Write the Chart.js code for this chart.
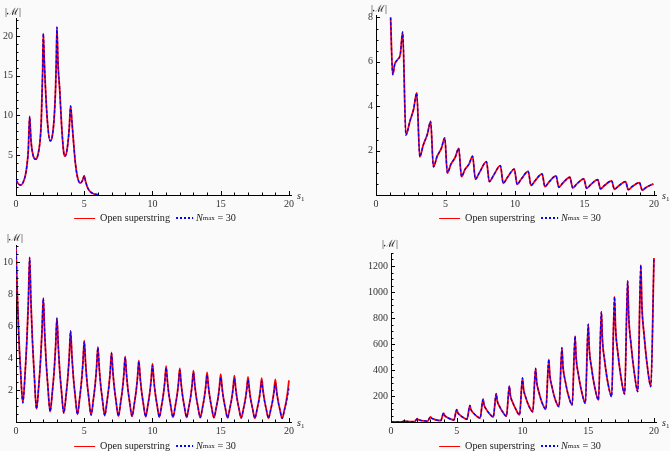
<!DOCTYPE html>
<html><head><meta charset="utf-8">
<script src="https://cdn.jsdelivr.net/npm/chart.js@4.4.1/dist/chart.umd.min.js"></script>
<style>
html,body{margin:0;padding:0;background:#fafafa;}
body{width:670px;height:451px;position:relative;overflow:hidden;font-family:"Liberation Serif","DejaVu Serif",serif;color:#222;}
canvas{position:absolute;}
.lab{position:absolute;font-size:10px;line-height:1;white-space:nowrap;color:#222;}
.lab i{font-style:italic;}
.leg{position:absolute;display:flex;align-items:center;font-size:10.2px;line-height:1;white-space:nowrap;transform:translateX(-50%);color:#222;}
.rl{display:inline-block;width:21px;height:1.2px;background:#f00;margin-right:5px;}
.bl{display:inline-block;width:17px;height:1.5px;background:repeating-linear-gradient(to right,#00f 0 2px,transparent 2px 4px);margin-left:6px;margin-right:3px;}
sub{font-size:7px;vertical-align:-2px;line-height:0;}
</style></head>
<body>
<canvas id="c1" width="335" height="225" style="left:0;top:0"></canvas>
<canvas id="c2" width="335" height="225" style="left:335px;top:0"></canvas>
<canvas id="c3" width="335" height="226" style="left:0;top:225px"></canvas>
<canvas id="c4" width="335" height="226" style="left:335px;top:225px"></canvas>

<div class="lab" style="left:5px;top:7px">|ℳ|</div>
<div class="lab" style="left:371px;top:4px">|ℳ|</div>
<div class="lab" style="left:7px;top:233px">|ℳ|</div>
<div class="lab" style="left:382px;top:239px">|ℳ|</div>
<div class="lab" style="left:297px;top:191px"><i>s</i><sub>1</sub></div>
<div class="lab" style="left:662px;top:191px"><i>s</i><sub>1</sub></div>
<div class="lab" style="left:297px;top:418px"><i>s</i><sub>1</sub></div>
<div class="lab" style="left:662px;top:418px"><i>s</i><sub>1</sub></div>

<div class="leg" style="left:155px;top:213px"><span class="rl"></span>Open superstring<span class="bl"></span><i>N</i><sub>max</sub>&nbsp;= 30</div>
<div class="leg" style="left:520px;top:213px"><span class="rl"></span>Open superstring<span class="bl"></span><i>N</i><sub>max</sub>&nbsp;= 30</div>
<div class="leg" style="left:155px;top:441px"><span class="rl"></span>Open superstring<span class="bl"></span><i>N</i><sub>max</sub>&nbsp;= 30</div>
<div class="leg" style="left:520px;top:441px"><span class="rl"></span>Open superstring<span class="bl"></span><i>N</i><sub>max</sub>&nbsp;= 30</div>

<script>
// ---------- DATA ----------
const p1X = [0,0.15,0.35,0.55,0.7,0.8,0.9,1.0,1.1,1.25,1.45,1.6,1.75,1.85,1.95,2.0,2.07,2.15,2.3,2.5,2.65,2.8,2.9,2.95,3.0,3.08,3.2,3.35,3.5,3.6,3.75,3.9,4.0,4.1,4.2,4.35,4.5,4.7,4.85,5.0,5.1,5.25,5.45,5.7,6.0];
const p1Y = [1.9,1.45,1.25,1.7,2.6,3.7,5.6,9.9,6.8,5.0,4.5,5.0,6.6,9.2,15.5,20.3,17,13.8,9.3,6.8,7.3,9.8,13.5,16.8,21.1,16.5,13.3,8.5,5.3,4.9,5.8,8.4,11.2,9.2,7.0,4.0,2.3,1.5,1.75,2.4,1.7,0.9,0.4,0.15,0.05];

const p2X = [1.05,1.2,1.35,1.55,1.75,1.92, 2.15,2.45,2.7,2.93, 3.15,3.4,3.7,3.93, 4.13,4.4,4.7,4.95, 5.13,5.4,5.7,5.95, 6.15,6.4,6.7,6.95, 7.15,7.45,7.95, 8.15,8.45,8.95, 9.15,9.45,9.95, 10.15,10.45,10.95, 11.15,11.45,11.95, 12.15,12.45,12.95, 13.15,13.45,13.95, 14.15,14.45,14.95, 15.15,15.45,15.95, 16.15,16.45,16.95, 17.15,17.45,17.95, 18.15,18.45,18.95, 19.15,19.45,19.95];
const p2Y = [8.0,5.42,5.9,6.1,6.35,7.35, 2.7,3.35,3.85,4.6, 1.72,2.25,2.75,3.32, 1.27,1.75,2.1,2.57, 1.0,1.4,1.7,2.1, 0.83,1.15,1.4,1.75, 0.71,1.02,1.5, 0.6,0.88,1.32, 0.53,0.79,1.17, 0.48,0.72,1.06, 0.43,0.65,0.95, 0.38,0.59,0.86, 0.35,0.55,0.8, 0.32,0.5,0.73, 0.3,0.47,0.69, 0.28,0.44,0.64, 0.26,0.41,0.6, 0.24,0.39,0.56, 0.22,0.35,0.5];

const p3X = [0,0.1,0.2,0.33,0.5,0.67,0.8,0.9, 1,1.1,1.2,1.33,1.5,1.67,1.8,1.9, 2,2.1,2.2,2.33,2.5,2.67,2.8,2.9, 3,3.1,3.2,3.33,3.5,3.67,3.8,3.9, 4,4.1,4.2,4.33,4.5,4.67,4.8,4.9, 5,5.1,5.2,5.33,5.5,5.67,5.8,5.9, 6,6.1,6.2,6.33,6.5,6.67,6.8,6.9, 7,7.1,7.2,7.33,7.5,7.67,7.8,7.9, 8,8.1,8.2,8.33,8.5,8.67,8.8,8.9, 9,9.1,9.2,9.33,9.5,9.67,9.8,9.9, 10,10.1,10.2,10.33,10.5,10.67,10.8,10.9, 11,11.1,11.2,11.33,11.5,11.67,11.8,11.9, 12,12.1,12.2,12.33,12.5,12.67,12.8,12.9, 13,13.1,13.2,13.33,13.5,13.67,13.8,13.9, 14,14.1,14.2,14.33,14.5,14.67,14.8,14.9, 15,15.1,15.2,15.33,15.5,15.67,15.8,15.9, 16,16.1,16.2,16.33,16.5,16.67,16.8,16.9, 17,17.1,17.2,17.33,17.5,17.67,17.8,17.9, 18,18.1,18.2,18.33,18.5,18.67,18.8,18.9, 19,19.1,19.2,19.33,19.5,19.67,19.8,19.9, 20];
const p3Red = [11.0,7.9,5.5,3.3,1.2,3.1,5.2,7.4, 10.3,7.4,5.2,3.1,0.82,2.3,3.9,5.6, 7.75,5.6,3.9,2.3,0.65,1.95,3.25,4.7, 6.5,4.7,3.25,1.95,0.55,1.7,2.85,4.1, 5.7,4.1,2.85,1.7,0.48,1.53,2.55,3.67, 5.1,3.67,2.55,1.53,0.43,1.41,2.35,3.38, 4.7,3.38,2.35,1.41,0.4,1.3,2.18,3.13, 4.35,3.13,2.18,1.3,0.37,1.23,2.05,2.95, 4.1,2.95,2.05,1.23,0.35,1.15,1.93,2.77, 3.85,2.77,1.93,1.15,0.33,1.1,1.83,2.63, 3.65,2.63,1.83,1.1,0.31,1.05,1.75,2.52, 3.5,2.52,1.75,1.05,0.3,1.0,1.68,2.41, 3.35,2.41,1.68,1.0,0.29,0.97,1.61,2.32, 3.22,2.32,1.61,0.97,0.28,0.93,1.55,2.23, 3.1,2.23,1.55,0.93,0.27,0.9,1.5,2.16, 3.0,2.16,1.5,0.9,0.26,0.87,1.45,2.09, 2.9,2.09,1.45,0.87,0.25,0.85,1.41,2.03, 2.82,2.03,1.41,0.85,0.24,0.83,1.38,1.98, 2.75,1.98,1.38,0.83,0.24,0.8,1.34,1.92, 2.67,1.92,1.34,0.8,0.23,0.78,1.3,1.87, 2.6];
const p3Blue = [11.0,7.9,5.5,3.3,1.2,3.1,5.2,7.4, 10.3,7.4,5.2,3.1,0.82,2.3,3.9,5.6, 7.75,5.6,3.9,2.3,0.65,1.95,3.25,4.7, 6.5,4.7,3.25,1.95,0.55,1.7,2.85,4.1, 5.7,4.1,2.85,1.7,0.48,1.53,2.55,3.67, 5.05,3.67,2.55,1.53,0.43,1.41,2.35,3.38, 4.65,3.38,2.35,1.41,0.4,1.3,2.18,3.13, 4.3,3.13,2.18,1.3,0.37,1.23,2.05,2.93, 4.05,2.93,2.05,1.23,0.35,1.15,1.92,2.74, 3.8,2.74,1.92,1.15,0.33,1.1,1.82,2.6, 3.55,2.6,1.82,1.1,0.31,1.05,1.74,2.48, 3.4,2.48,1.74,1.05,0.3,1.0,1.66,2.37, 3.25,2.37,1.66,1.0,0.29,0.96,1.59,2.27, 3.1,2.27,1.59,0.96,0.28,0.92,1.53,2.18, 2.95,2.18,1.53,0.92,0.27,0.89,1.47,2.1, 2.8,2.1,1.47,0.89,0.26,0.86,1.43,2.03, 2.75,2.03,1.43,0.86,0.25,0.84,1.39,1.96, 2.65,1.96,1.39,0.84,0.24,0.82,1.35,1.9, 2.55,1.9,1.35,0.82,0.24,0.79,1.3,1.82, 2.45,1.82,1.3,0.79,0.23,0.75,1.2,1.65, 2.1];

const p4X = [0,0.5,0.8, 1,1.08,1.25,1.5,1.78, 2,2.08,2.25,2.5,2.78, 3,3.08,3.25,3.5,3.78, 4,4.08,4.25,4.5,4.78, 5,5.08,5.25,5.5,5.78, 6,6.08,6.25,6.5,6.78, 7,7.08,7.25,7.5,7.78, 8,8.08,8.25,8.5,8.78, 9,9.08,9.25,9.5,9.78, 10,10.08,10.25,10.5,10.78, 11,11.08,11.25,11.5,11.78, 12,12.08,12.25,12.5,12.78, 13,13.08,13.25,13.5,13.78, 14,14.08,14.25,14.5,14.78, 15,15.08,15.25,15.5,15.78, 16,16.08,16.25,16.5,16.78, 17,17.08,17.25,17.5,17.77, 18,18.08,18.25,18.5,18.77, 19,19.08,19.25,19.5,19.76, 20];
const p4Y = [0,0.3,0.5, 8,6,4,3,2, 25,18,13,9,6, 40,30,22,14,10, 68,50,37,24,15, 95,71,53,34,21, 128,96,71,46,30, 175,131,97,62,38, 218,163,121,77,45, 275,205,152,97,55, 340,254,189,120,79, 412,308,229,145,98, 482,360,268,170,118, 571,426,317,201,131, 661,493,367,233,144, 753,562,418,265,169, 848,633,471,298,195, 964,720,535,339,215, 1087,811,604,382,233, 1207,901,670,425,272, 1262];

const seriesNames = ['Open superstring', 'N_max = 30'];

// ---------- RENDER ----------
const FONT = '"Liberation Serif","DejaVu Serif",serif';
function pts(xs, ys){ return xs.map((x,i)=>({x:x, y:ys[i]})); }

const tickMarks = {
  id:'tickMarks',
  afterDraw(chart, args, o){
    const {ctx, scales:{x, y}} = chart;
    ctx.save();
    ctx.strokeStyle = '#000'; ctx.lineWidth = 1;
    ctx.beginPath();
    for (let i=0; i*o.xMinor <= x.max + 1e-9; i++){
      const v = i*o.xMinor;
      const major = i % o.xEvery === 0;
      const px = Math.round(x.getPixelForValue(v)) + 0.5;
      ctx.moveTo(px, y.bottom); ctx.lineTo(px, y.bottom - (major ? 4 : 2.5));
    }
    for (let i=0; i*o.yMinor <= y.max + 1e-9; i++){
      const v = i*o.yMinor;
      const major = i % o.yEvery === 0;
      const py = Math.round(y.getPixelForValue(v)) + 0.5;
      ctx.moveTo(x.left, py); ctx.lineTo(x.left + (major ? 4 : 2.5), py);
    }
    ctx.stroke();
    ctx.restore();
  }
};

function panel(id, red, blue, g){
  new Chart(document.getElementById(id), {
    type:'line',
    data:{datasets:[
      {label:seriesNames[0], data:red, borderColor:'#ff0000', borderWidth:1.8, order:1, pointRadius:0, cubicInterpolationMode:'monotone'},
      {label:seriesNames[1], data:blue, borderColor:'#0000ff', borderWidth:1.3, borderDash:[3,2], order:0, pointRadius:0, cubicInterpolationMode:'monotone'}
    ]},
    options:{
      responsive:false, animation:false, devicePixelRatio:1,
      layout:{padding:{left:0, top:g.padTop, right:g.padRight, bottom:0}},
      plugins:{legend:{display:false}, tooltip:{enabled:false}, tickMarks:g.tm},
      scales:{
        x:{type:'linear', min:0, max:20.2,
           grid:{display:false, drawTicks:false}, border:{display:true, color:'#000', width:1},
           ticks:{stepSize:5, includeBounds:false, padding:3, color:'#333', font:{family:FONT, size:10}, maxRotation:0, autoSkip:false},
           afterFit:s=>{ s.height = g.xH; }},
        y:{type:'linear', min:0, max:g.yMax,
           grid:{display:false, drawTicks:false}, border:{display:true, color:'#000', width:1},
           ticks:{stepSize:g.yStep, includeBounds:false, padding:3, color:'#333', font:{family:FONT, size:10}, autoSkip:false,
                  callback:v => v === 0 ? '' : v},
           afterFit:s=>{ s.width = g.yW; }}
      }
    },
    plugins:[tickMarks]
  });
}

panel('c1', pts(p1X,p1Y), pts(p1X,p1Y), {yW:16, xH:30, padTop:18.5, padRight:43.3, yMax:22.2, yStep:5, tm:{xMinor:1,xEvery:5,yMinor:1,yEvery:5}});
panel('c2', pts(p2X,p2Y), pts(p2X,p2Y), {yW:41, xH:30, padTop:15.2, padRight:13.2, yMax:8.1, yStep:2, tm:{xMinor:1,xEvery:5,yMinor:0.5,yEvery:4}});
panel('c3', pts(p3X,p3Red), pts(p3X,p3Blue), {yW:16, xH:29, padTop:20.5, padRight:43.3, yMax:11.05, yStep:2, tm:{xMinor:1,xEvery:5,yMinor:0.5,yEvery:4}});
panel('c4', pts(p4X,p4Y), pts(p4X,p4Y), {yW:56, xH:29, padTop:28, padRight:13.4, yMax:1300, yStep:200, tm:{xMinor:1,xEvery:5,yMinor:50,yEvery:4}});
</script>
</body></html>
